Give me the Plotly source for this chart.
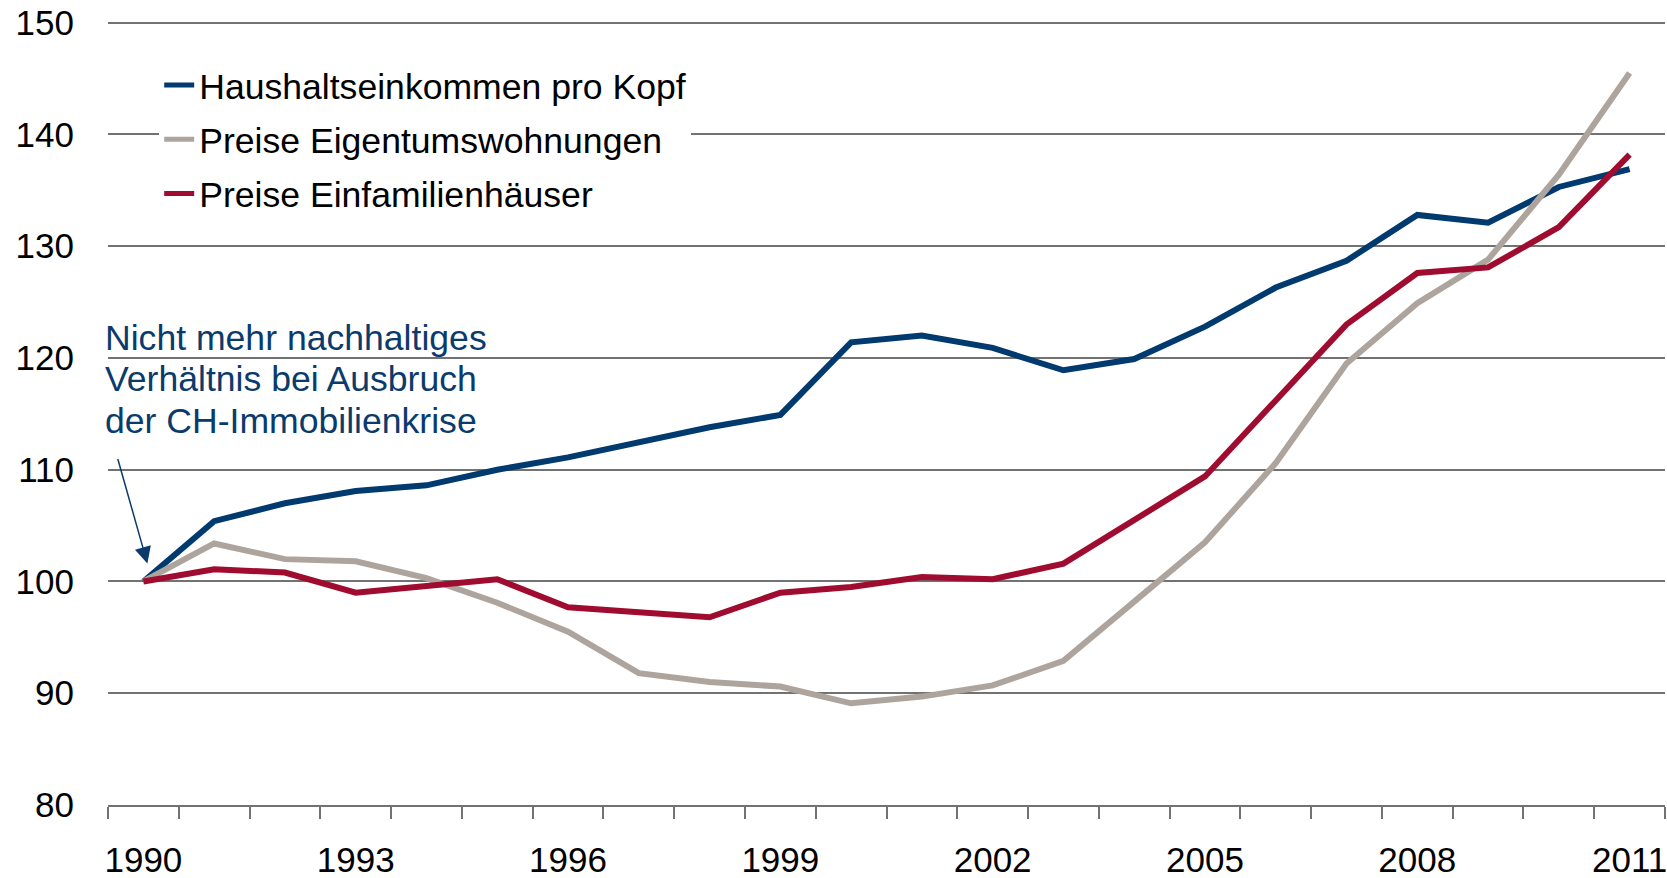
import plotly.graph_objects as go

years = list(range(1990, 2012))
label_years = [1990, 1993, 1996, 1999, 2002, 2005, 2008, 2011]
tick_labels = [str(y) for y in label_years]

einkommen = [100.0, 105.4, 107.0, 108.1, 108.6, 110.0, 111.1, 112.4, 113.8, 114.9, 121.4,
             122.0, 120.9, 118.9, 119.9, 122.8, 126.3, 128.7, 132.8, 132.1, 135.3, 136.9]
eigentumswohnungen = [100.0, 103.4, 102.0, 101.8, 100.3, 98.1, 95.5, 91.8, 91.0, 90.6, 89.1,
                      89.7, 90.7, 92.9, 98.2, 103.5, 110.6, 119.5, 124.9, 128.8, 136.4, 145.5]
einfamilienhaeuser = [100.0, 101.1, 100.8, 99.0, 99.6, 100.2, 97.7, 97.3, 96.8, 99.0, 99.5,
                      100.4, 100.2, 101.6, 105.5, 109.4, 116.2, 123.0, 127.6, 128.1, 131.7, 138.2]

series_names = ["Haushaltseinkommen pro Kopf", "Preise Eigentumswohnungen", "Preise Einfamilienhäuser"]
series_colors = ["#003a6e", "#ada59d", "#9f0c2f"]
series_values = [einkommen, eigentumswohnungen, einfamilienhaeuser]

annotation_lines = ["Nicht mehr nachhaltiges", "Verhältnis bei Ausbruch", "der CH-Immobilienkrise"]

FONT = "Liberation Sans, Arial, sans-serif"
GRID = "#727272"
NAVY = "#0b3b6c"

fig = go.Figure()
for i, (name, color, vals) in enumerate(zip(series_names, series_colors, series_values)):
    fig.add_trace(go.Scatter(
        x=years, y=vals, mode="lines", name=name,
        legendgroup=f"g{i}",
        line=dict(color=color, width=6),
    ))

fig.update_layout(
    width=1667, height=878,
    margin=dict(l=108, r=2, t=21, b=73, autoexpand=False),
    paper_bgcolor="white", plot_bgcolor="white",
    font=dict(family=FONT, size=35, color="black"),
    showlegend=True,
    legend=dict(
        x=0.0955, y=0.937, xref="container", yref="container",
        xanchor="left", yanchor="top",
        bgcolor="white", borderwidth=0,
        font=dict(family=FONT, size=35.6, color="black"),
        tracegroupgap=5, traceorder="grouped",
        itemsizing="constant",
    ),
    xaxis=dict(
        range=[1989.5, 2011.5],
        tickmode="array", tickvals=label_years, ticktext=tick_labels,
        ticks="",
        minor=dict(tickmode="linear", tick0=1989.5, dtick=1, ticks="outside",
                   ticklen=12, tickcolor=GRID, tickwidth=1.5, showgrid=False),
        showline=True, linecolor=GRID, linewidth=1.6,
        showgrid=False, zeroline=False,
        tickfont=dict(family=FONT, size=35, color="black"),
        ticklabelstandoff=23,
        ticklabeloverflow="allow",
        automargin=False,
    ),
    yaxis=dict(
        range=[80, 150.15], tickmode="linear", tick0=80, dtick=10,
        showgrid=True, gridcolor=GRID, gridwidth=1.5,
        zeroline=False, showline=False, ticks="",
        tickfont=dict(family=FONT, size=35, color="black"),
        ticklabelstandoff=33,
        automargin=False,
    ),
)

line_y = [0.5963, 0.5428, 0.4893]
for txt, yy in zip(annotation_lines, line_y):
    fig.add_annotation(
        text=txt, xref="paper", yref="paper",
        x=-0.0032, y=yy, xanchor="left", yanchor="middle",
        showarrow=False, font=dict(family=FONT, size=35.6, color=NAVY),
    )

fig.add_annotation(
    x=years[0], y=einkommen[0], xref="x", yref="y",
    xshift=4, yshift=18,
    text="", showarrow=True, ax=-30, ay=-106,
    arrowhead=2, arrowsize=2.2, arrowwidth=1.5, arrowcolor=NAVY,
)

fig.write_html("out.html", config={"displayModeBar": False},
               post_script="document.body.style.margin='0';document.body.style.overflow='hidden';")
